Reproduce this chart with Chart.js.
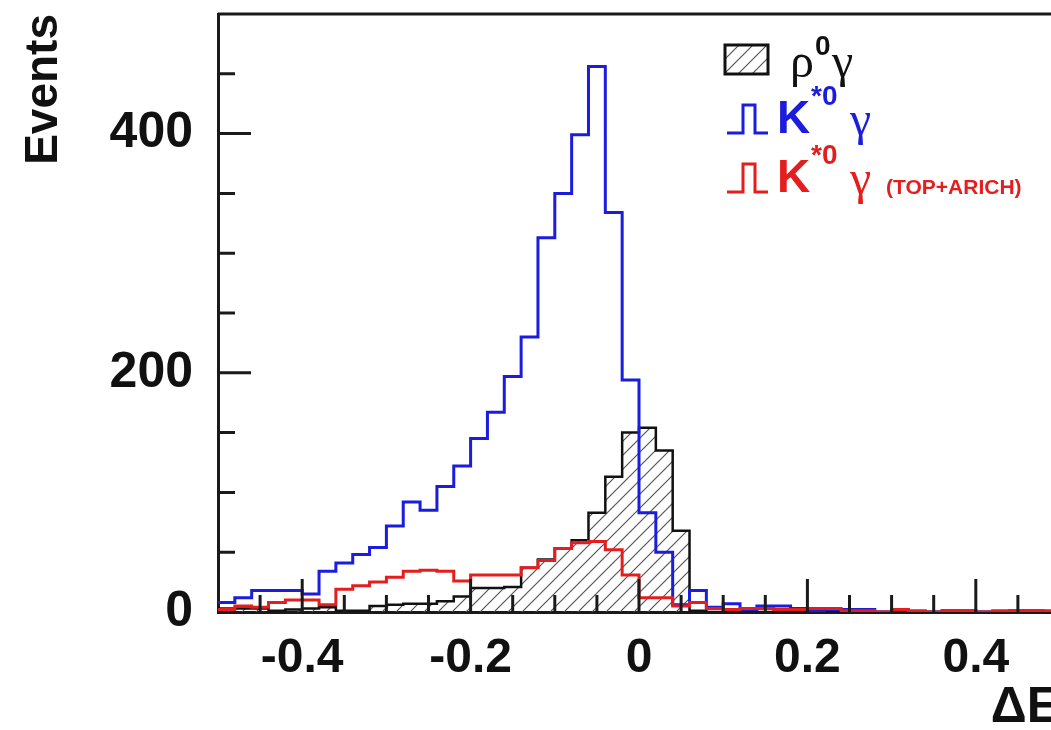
<!DOCTYPE html>
<html>
<head>
<meta charset="utf-8">
<script src="https://cdn.jsdelivr.net/npm/chart.js@4.4.1/dist/chart.umd.min.js"></script>
<style>
  html, body { margin: 0; padding: 0; background: #fff; overflow: hidden; }
  canvas { display: block; }
</style>
</head>
<body>
<canvas id="histo" width="1080" height="730"></canvas>
<script>
// bords gauches des bins (largeur 0.02), dernier bord à 0.5
const binLow = [
  -0.50, -0.48, -0.46, -0.44, -0.42, -0.40, -0.38, -0.36, -0.34, -0.32,
  -0.30, -0.28, -0.26, -0.24, -0.22, -0.20, -0.18, -0.16, -0.14, -0.12,
  -0.10, -0.08, -0.06, -0.04, -0.02, 0.00, 0.02, 0.04, 0.06, 0.08,
  0.10, 0.12, 0.14, 0.16, 0.18, 0.20, 0.22, 0.24, 0.26, 0.28,
  0.30, 0.32, 0.34, 0.36, 0.38, 0.40, 0.42, 0.44, 0.46, 0.48
];
const binHigh = 0.5;

// rho0 gamma (hachuré, noir)
const rhoGamma = [
  3, 3, 3, 1, 2, 3, 4, 1, 1, 5,
  6, 7, 7, 9, 13, 20, 20, 21, 37, 44,
  53, 60, 83, 113, 150, 154, 135, 68, 1, 0,
  0, 0, 0, 0, 0, 0, 0, 0, 0, 0,
  0, 0, 0, 0, 0, 0, 0, 0, 0, 0
];
// K*0 gamma (bleu)
const kstarGamma = [
  8, 12, 18, 18, 18, 15, 34, 41, 48, 54,
  72, 92, 85, 105, 122, 145, 167, 197, 230, 313,
  350, 399, 456, 334, 194, 83, 50, 6, 18, 4,
  7, 2, 5, 5, 3, 1, 2, 2, 2, 0,
  0, 0, 0, 1, 1, 0, 0, 1, 1, 0
];
// K*0 gamma mal identifié avec TOP+ARICH (rouge)
const kstarGammaPid = [
  2, 5, 4, 8, 10, 10, 6, 19, 22, 25,
  29, 34, 35, 34, 26, 31, 31, 31, 37, 43,
  53, 58, 59, 52, 31, 12, 12, 5, 8, 3,
  2, 3, 3, 2, 2, 3, 3, 1, 1, 0,
  2, 1, 0, 1, 1, 0, 1, 1, 1, 1
];

const xTicks = [-0.4, -0.2, 0, 0.2, 0.4];
const yTicks = [0, 200, 400];

const BLEU = '#1c1cdc';
const ROUGE = '#e41e1e';
const NOIR = '#111111';

// points en escalier : bord gauche + dernier bord
function escalier(values) {
  const pts = values.map((v, i) => ({ x: binLow[i], y: v }));
  pts.push({ x: binHigh, y: values[values.length - 1] });
  return pts;
}

const ctx = document.getElementById('histo').getContext('2d');

// motif hachuré façon ROOT (3004)
function hachures() {
  const s = 14;
  const c = document.createElement('canvas');
  c.width = s; c.height = s;
  const p = c.getContext('2d');
  p.strokeStyle = '#555';
  p.lineWidth = 1.2;
  p.beginPath();
  p.moveTo(0, s); p.lineTo(s, 0);
  p.moveTo(-1, 1); p.lineTo(1, -1);
  p.moveTo(s - 1, s + 1); p.lineTo(s + 1, s - 1);
  p.stroke();
  return ctx.createPattern(c, 'repeat');
}
const hatch = hachures();

// graduations vers l'intérieur + cadre haut/droite
const graduations = {
  id: 'graduations',
  afterDraw(chart) {
    const { ctx, chartArea: a, scales: { x, y } } = chart;
    ctx.save();
    ctx.strokeStyle = '#1a1a1a';
    ctx.lineWidth = 3;
    ctx.beginPath();
    ctx.moveTo(a.left, a.top);
    ctx.lineTo(a.right, a.top);
    ctx.lineTo(a.right, a.bottom);
    for (let v = 50; v < 500; v += 50) {
      const py = y.getPixelForValue(v);
      ctx.moveTo(a.left, py);
      ctx.lineTo(a.left + (v % 200 === 0 ? 33 : 17), py);
    }
    for (let k = -9; k <= 9; k++) {
      const px = x.getPixelForValue(k * 0.05);
      ctx.moveTo(px, a.bottom);
      ctx.lineTo(px, a.bottom - (k % 4 === 0 ? 33 : 17));
    }
    ctx.stroke();
    ctx.restore();
  }
};

function creneau(c, x0, yb, yt, color) {
  c.strokeStyle = color;
  c.lineWidth = 3;
  c.beginPath();
  c.moveTo(x0, yb);
  c.lineTo(x0 + 16, yb);
  c.lineTo(x0 + 16, yt);
  c.lineTo(x0 + 28, yt);
  c.lineTo(x0 + 28, yb);
  c.lineTo(x0 + 41, yb);
  c.stroke();
}

// légende dessinée à la main (exposants, lettres grecques)
const legende = {
  id: 'legende',
  afterDraw(chart) {
    const c = chart.ctx;
    c.save();
    c.fillStyle = hatch;
    c.fillRect(725, 45, 43, 29);
    c.strokeStyle = NOIR;
    c.lineWidth = 3;
    c.strokeRect(725, 45, 43, 29);
    creneau(c, 727, 133, 105, BLEU);
    creneau(c, 727, 192, 164, ROUGE);

    c.textAlign = 'left';
    c.textBaseline = 'alphabetic';
    const grec = "48px 'Liberation Serif'";
    const gras = (s) => 'bold ' + s + "px 'Liberation Sans'";

    c.fillStyle = NOIR;
    c.font = grec;
    c.fillText('ρ', 790, 77);
    c.font = gras(28);
    c.fillText('0', 815, 55);
    c.font = grec;
    c.fillText('γ', 832, 77);

    const lignes = [[BLEU, 133], [ROUGE, 192]];
    lignes.forEach(([col, yb]) => {
      c.fillStyle = col;
      c.font = gras(46);
      c.fillText('K', 777, yb);
      c.font = gras(28);
      c.fillText('*0', 811, yb - 28);
      c.font = grec;
      c.fillText('γ', 850, yb + 2);
    });
    c.fillStyle = ROUGE;
    c.font = gras(21);
    c.fillText('(TOP+ARICH)', 886, 194);
    c.restore();
  }
};

const police = "'Liberation Sans', Arial, sans-serif";

new Chart(ctx, {
  type: 'line',
  data: {
    datasets: [
      {
        label: 'K*0γ (TOP+ARICH)',
        data: escalier(kstarGammaPid),
        stepped: true,
        borderColor: ROUGE,
        borderWidth: 3,
        pointRadius: 0,
        fill: false,
        order: 1
      },
      {
        label: 'K*0γ',
        data: escalier(kstarGamma),
        stepped: true,
        borderColor: BLEU,
        borderWidth: 3,
        pointRadius: 0,
        fill: false,
        order: 2
      },
      {
        label: 'ρ0γ',
        data: escalier(rhoGamma),
        stepped: true,
        borderColor: NOIR,
        borderWidth: 2.5,
        pointRadius: 0,
        backgroundColor: hatch,
        fill: 'origin',
        order: 3
      }
    ]
  },
  options: {
    responsive: false,
    animation: false,
    devicePixelRatio: 1,
    layout: { padding: { left: 0, top: 14, right: 20, bottom: 0 } },
    plugins: {
      legend: { display: false },
      tooltip: { enabled: false }
    },
    scales: {
      x: {
        type: 'linear',
        min: -0.5,
        max: 0.5,
        afterFit: s => {
          s.height = 118;
          s.paddingLeft = 0;
          s.paddingRight = 0;
        },
        afterBuildTicks: s => { s.ticks = xTicks.map(v => ({ value: v })); },
        grid: { display: false, drawTicks: false },
        border: { display: true, color: '#1a1a1a', width: 3 },
        ticks: {
          color: NOIR,
          font: { family: police, size: 48, weight: 'bold' },
          padding: 18,
          maxRotation: 0,
          callback: v => (v === 0 ? '0' : v.toFixed(1))
        },
        title: {
          display: true,
          text: 'ΔE',
          align: 'end',
          color: NOIR,
          font: { family: police, size: 50, weight: 'bold', lineHeight: 1 },
          padding: { top: 0, bottom: -3 }
        }
      },
      y: {
        min: 0,
        max: 500,
        afterFit: s => {
          s.width = 218;
          s.paddingTop = 0;
          s.paddingBottom = 0;
        },
        afterBuildTicks: s => { s.ticks = yTicks.map(v => ({ value: v })); },
        grid: { display: false, drawTicks: false },
        border: { display: true, color: '#1a1a1a', width: 3 },
        ticks: {
          color: NOIR,
          font: { family: police, size: 50, weight: 'bold' },
          padding: 25
        },
        title: {
          display: true,
          text: 'Events',
          align: 'end',
          color: NOIR,
          font: { family: police, size: 46, weight: 'bold' },
          padding: { top: 17, bottom: 0 }
        }
      }
    }
  },
  plugins: [graduations, legende]
});
</script>
</body>
</html>
